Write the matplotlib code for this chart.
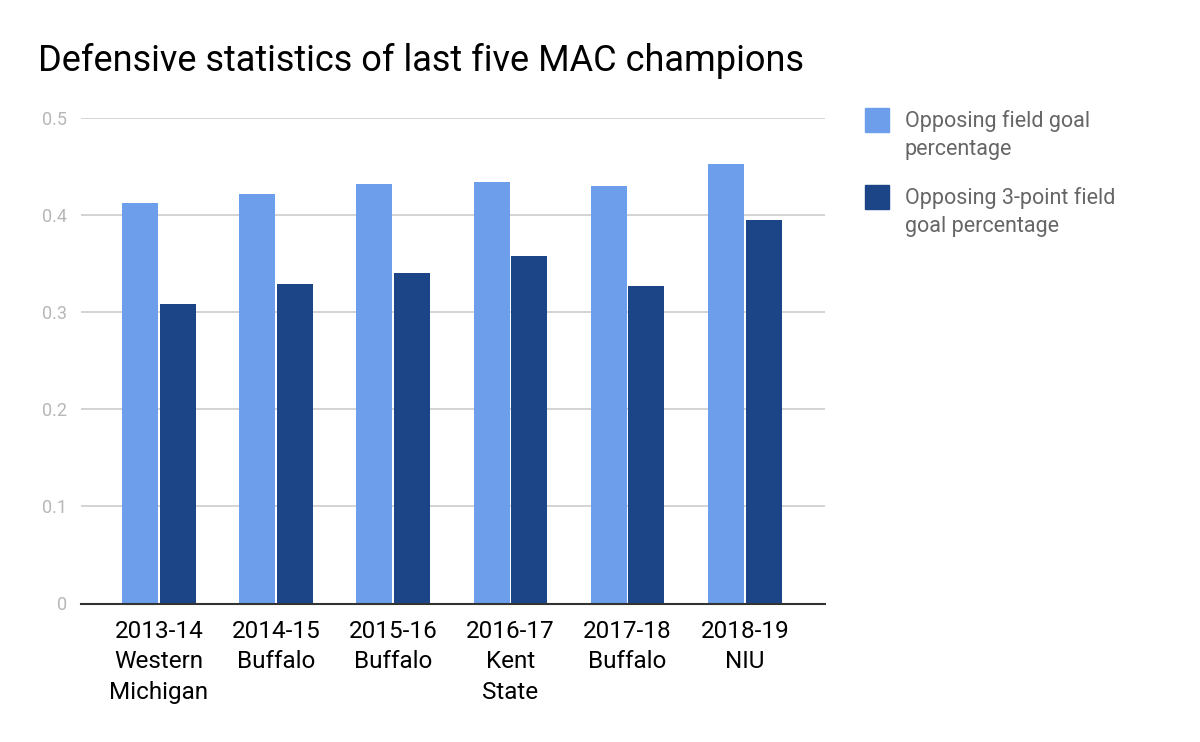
import matplotlib
matplotlib.use("Agg")
import matplotlib.pyplot as plt
from matplotlib.patches import Rectangle
import numpy as np

# values
seasons = ["2013-14\nWestern\nMichigan", "2014-15\nBuffalo", "2015-16\nBuffalo",
           "2016-17\nKent\nState", "2017-18\nBuffalo", "2018-19\nNIU"]
fg_pct = [0.412, 0.422, 0.432, 0.434, 0.430, 0.453]
three_pct = [0.308, 0.329, 0.340, 0.358, 0.327, 0.395]
series_names = ["Opposing field goal\npercentage", "Opposing 3-point field\ngoal percentage"]
series_colors = ["#6d9eeb", "#1c4587"]
yticks = [0, 0.1, 0.2, 0.3, 0.4, 0.5]

plt.rcParams['font.family'] = ['Roboto', 'DejaVu Sans']

fig = plt.figure(figsize=(12, 7.42), dpi=100)
ax = fig.add_axes([81/1200, 1-603.5/742, (825-81)/1200, (603.5-118)/742])

x = np.arange(len(seasons))
w = 0.307
ax.bar(x - 0.16, fg_pct, w, color=series_colors[0], zorder=3)
ax.bar(x + 0.16, three_pct, w, color=series_colors[1], zorder=3)

ax.set_xlim(-0.664, 5.684)
ax.set_ylim(0, 0.5)
ax.set_yticks(yticks)
ax.set_yticklabels(["0", "0.1", "0.2", "0.3", "0.4", "0.5"], color="#b7b7b7", fontsize=13)
ax.set_xticks(x)
ax.set_xticklabels(seasons, fontsize=17.5, color="#000000", linespacing=1.4)
ax.tick_params(axis="both", length=0)
ax.tick_params(axis="y", pad=10)
ax.tick_params(axis="x", pad=12)

ax.grid(axis="y", color="#cccccc", linewidth=1.2, zorder=0)
for s in ["top", "right", "left"]:
    ax.spines[s].set_visible(False)
ax.spines["bottom"].set_color("#333333")
ax.spines["bottom"].set_linewidth(1.5)
ax.spines["bottom"].set_zorder(4)

fig.text(38/1200, 1-61/742, "Defensive statistics of last five MAC champions",
         fontsize=26, color="#000000", va="center", ha="left")

# legend drawn by hand to match the two-line layout
for i, (name, col) in enumerate(zip(series_names, series_colors)):
    top = 108 + i * 77
    fig.patches.append(Rectangle((865/1200, 1-(top+24)/742), 24/1200, 24/742,
                                 transform=fig.transFigure, color=col))
    fig.text(905/1200, 1-(top+2)/742, name, fontsize=15.5, color="#666666",
             va="top", ha="left", linespacing=1.45)

fig.savefig("out.png", dpi=100)
